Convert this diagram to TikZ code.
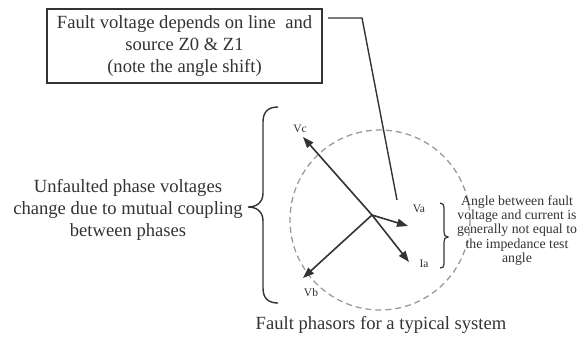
\documentclass[tikz,border=0pt]{standalone}
\usepackage{fontspec}
\setmainfont{Liberation Serif}
\usetikzlibrary{arrows.meta}
\definecolor{ink}{HTML}{333333}
\definecolor{circ}{HTML}{9A9A9A}
\tikzset{
  bigtext/.style={text=ink, align=center, inner sep=0pt, font=\fontsize{18.6}{22}\selectfont},
  smalltext/.style={text=ink, align=center, inner sep=0pt, font=\fontsize{13.8}{14.3}\selectfont},
  lbl/.style={text=ink, inner sep=0pt, font=\fontsize{11.5}{12}\selectfont},
  phasor/.style={draw=ink, line width=1.6pt, -{Triangle[length=11pt,width=8pt]}},
  conn/.style={draw=ink, line width=1.4pt},
}
\begin{document}
\begin{tikzpicture}[x=1pt,y=-1pt]
\useasboundingbox (0,0) rectangle (581,338);
% note box
\node[bigtext, draw=ink, line width=1.4pt, minimum width=275pt, minimum height=74pt] (box) at (184.5,46)
  {Fault voltage depends on line\ \ and\\ source Z0 \& Z1\\ (note the angle shift)};
\coordinate (c1) at (328,18);
\coordinate (c2) at (362,18);
\coordinate (c3) at (397,200);
\draw[conn] (c1) -- (c2) -- (c3);
% circle
\draw[circ, line width=1.3pt, dash pattern=on 6pt off 4pt] (380,220) circle (90);
% phasors
\coordinate (O) at (372,215);
\coordinate (tc) at (303,137);
\coordinate (ta) at (408,226);
\coordinate (ti) at (409,262);
\coordinate (tb) at (303,278);
\draw[phasor] (O) -- (tc);
\draw[phasor] (O) -- (ta);
\draw[phasor] (O) -- (ti);
\draw[phasor] (O) -- (tb);
\node[lbl] (vc) at (300,129) {Vc};
\node[lbl] (va) at (419,209) {Va};
\node[lbl] (ia) at (424,264) {Ia};
\node[lbl] (vb) at (311,293) {Vb};
% left brace
\draw[ink, line width=1.4pt] (278,107) .. controls (268,107) and (263,112) .. (263,122)
  -- (263,193) .. controls (263,203) and (256,207) .. (248,207)
  .. controls (256,207) and (263,211) .. (263,221)
  -- (263,288) .. controls (263,298) and (268,303) .. (278,303);
\node[bigtext] (left) at (128,209.5) {Unfaulted phase voltages\\ change due to mutual coupling\\ between phases};
% right brace
\draw[ink, line width=1.2pt] (440,203) .. controls (443,203) and (444,205) .. (444,208)
  -- (444,232) .. controls (444,235) and (445,237) .. (448,237)
  .. controls (445,237) and (444,239) .. (444,242)
  -- (444,264) .. controls (444,267) and (443,268) .. (440,268);
\node[smalltext] (right) at (517,230.5) {Angle between fault\\ voltage and current is\\ generally not equal to\\ the impedance test\\ angle};
% caption
\node[bigtext] (cap) at (381,325) {Fault phasors for a typical system};
\end{tikzpicture}
\end{document}
